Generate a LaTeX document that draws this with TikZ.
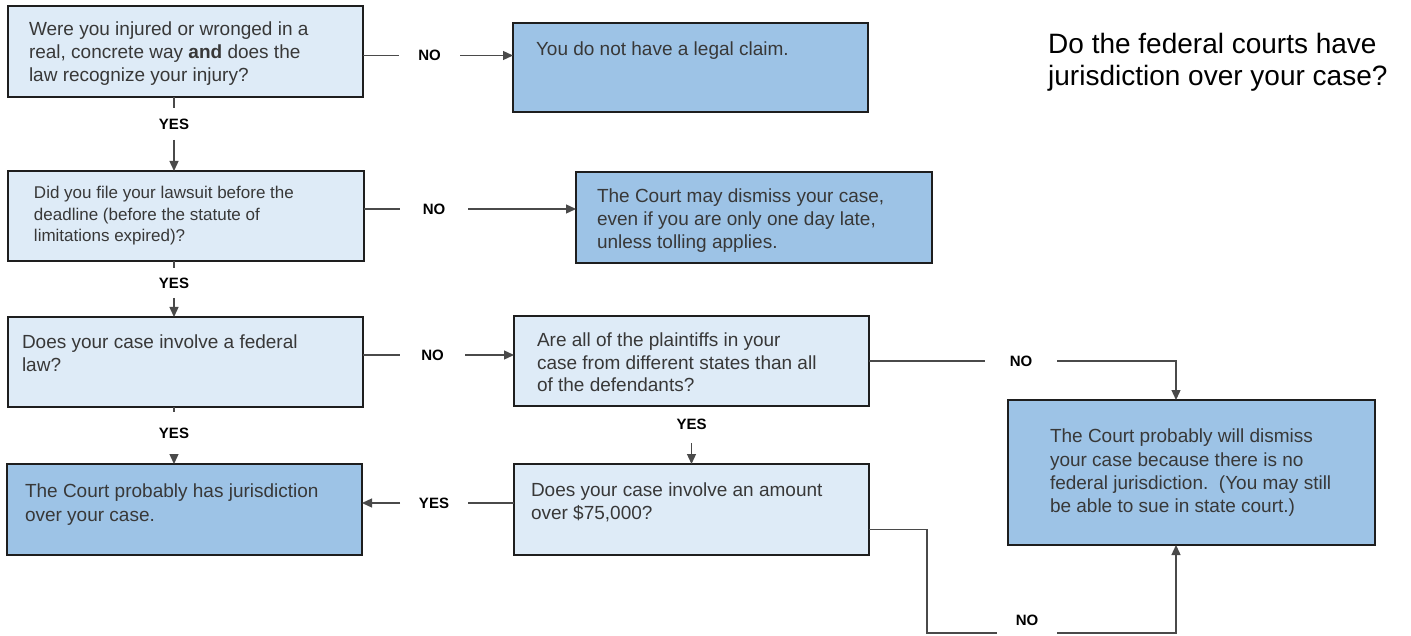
\documentclass[tikz,border=0pt]{standalone}
\usepackage{fontspec}
\setmainfont{Liberation Sans}
\usetikzlibrary{arrows.meta}
\definecolor{lightfill}{HTML}{DEEBF7}
\definecolor{midfill}{HTML}{9DC3E6}
\definecolor{edgecol}{HTML}{1E1E1E}
\definecolor{txtcol}{HTML}{383838}
\definecolor{linecol}{HTML}{4A4A4A}
\begin{document}
\begin{tikzpicture}[x=1pt,y=-1pt,
  qbox/.style={draw=edgecol, line width=2.4pt, fill=lightfill, inner sep=0pt, outer sep=0pt},
  abox/.style={qbox, fill=midfill},
  txt/.style={anchor=north west, inner sep=0pt, outer sep=0pt, align=left, text=txtcol},
  big/.style={font=\fontsize{19}{23}\selectfont},
  lbl/.style={inner sep=0pt, outer sep=0pt, font=\fontsize{15}{15}\selectfont\bfseries, text=black},
  conn/.style={draw=linecol, line width=1.3pt},
  arr/.style={conn, -{Triangle[length=10pt,width=9pt]}}]

\useasboundingbox (0,0) rectangle (1411,636);

% boxes
\node[qbox, minimum width=355pt, minimum height=91pt] (A) at (185.5,51.5) {};
\node[abox, minimum width=355pt, minimum height=89pt] (B) at (690.5,67.5) {};
\node[qbox, minimum width=356pt, minimum height=90pt] (C) at (186,216) {};
\node[abox, minimum width=356pt, minimum height=91pt] (D) at (754,217.5) {};
\node[qbox, minimum width=355pt, minimum height=90pt] (E) at (185.5,362) {};
\node[qbox, minimum width=355pt, minimum height=90pt] (F) at (691.5,361) {};
\node[abox, minimum width=355pt, minimum height=91pt] (G) at (184.5,509.5) {};
\node[qbox, minimum width=355pt, minimum height=91pt] (H) at (691.5,509.5) {};
\node[abox, minimum width=367pt, minimum height=145pt] (I) at (1191.5,472.5) {};

% texts
\node[txt, big] (tA) at (29,22) {Were you injured or wronged in a\\ real, concrete way \textbf{and} does the\\ law recognize your injury?};
\node[txt, big] (tB) at (536,42) {You do not have a legal claim.};
\node[txt, font=\fontsize{17}{21.5}\selectfont] (tC) at (34,186.5) {Did you file your lawsuit before the\\ deadline (before the statute of\\ limitations expired)?};
\node[txt, big] (tD) at (597,189) {The Court may dismiss your case,\\ even if you are only one day late,\\ unless tolling applies.};
\node[txt, font=\fontsize{19}{22.5}\selectfont] (tE) at (22,335) {Does your case involve a federal\\ law?};
\node[txt, font=\fontsize{19}{22.5}\selectfont] (tF) at (537,333) {Are all of the plaintiffs in your\\ case from different states than all\\ of the defendants?};
\node[txt, font=\fontsize{19}{23.5}\selectfont] (tG) at (25,484) {The Court probably has jurisdiction\\ over your case.};
\node[txt, big] (tH) at (531,483) {Does your case involve an amount\\ over \$75,000?};
\node[txt, font=\fontsize{19}{23.3}\selectfont] (tI) at (1050,429) {The Court probably will dismiss\\ your case because there is no\\ federal jurisdiction.\ \ (You may still\\ be able to sue in state court.)};

\node[anchor=north west, inner sep=0pt, align=left, text=black, font=\fontsize{28}{32}\selectfont] (title) at (1048,33) {Do the federal courts have\\ jurisdiction over your case?};

% labels
\node[lbl, minimum width=61pt] (noAB) at (429.5,55.5) {NO};
\node[lbl, minimum height=32pt] (yesAC) at (174,124) {YES};
\node[lbl, minimum width=68pt] (noCD) at (434,209) {NO};
\node[lbl, minimum height=30pt] (yesCE) at (174,283) {YES};
\node[lbl, minimum width=65pt] (noEF) at (432.5,355) {NO};
\node[lbl, minimum height=43pt] (yesEG) at (174,433.5) {YES};
\node[lbl, minimum height=37pt] (yesFH) at (691.5,424.5) {YES};
\node[lbl, minimum width=72pt] (noFI) at (1021,361) {NO};
\node[lbl, minimum width=68pt] (yesHG) at (434,503) {YES};
\node[lbl, minimum width=60pt] (noHI) at (1027,620) {NO};

\coordinate (c1) at (1176,361);
\coordinate (c4) at (927,633);
\coordinate (c5) at (1176,633);

% connectors
\draw[conn] (A.east |- noAB) -- (noAB.west);
\draw[arr] (noAB.east) -- (noAB.east -| B.west);

\draw[conn] (A.south -| yesAC) -- (yesAC.north);
\draw[arr] (yesAC.south) -- (yesAC.south |- C.north);

\draw[conn] (C.east |- noCD) -- (noCD.west);
\draw[arr] (noCD.east) -- (noCD.east -| D.west);

\draw[conn] (C.south -| yesCE) -- (yesCE.north);
\draw[arr] (yesCE.south) -- (yesCE.south |- E.north);

\draw[conn] (E.east |- noEF) -- (noEF.west);
\draw[arr] (noEF.east) -- (noEF.east -| F.west);

\draw[conn] (E.south -| yesEG) -- (yesEG.north);
\draw[arr] (yesEG.south) -- (yesEG.south |- G.north);

\draw[conn] (F.south) -- (yesFH.north);
\draw[arr] (yesFH.south) -- (H.north);

\draw[conn] (F.east) -- (noFI.west);
\draw[arr] (noFI.east) -- (c1) -- (c1 |- I.north);

\draw[conn] (H.west |- yesHG) -- (yesHG.east);
\draw[arr] (yesHG.west) -- (yesHG.west -| G.east);

\draw[conn] ([yshift=-20pt]H.east) -| (c4) -- (c4 -| noHI.west);
\draw[arr] (c5 -| noHI.east) -- (c5) -- (c5 |- I.south);
\end{tikzpicture}
\end{document}
